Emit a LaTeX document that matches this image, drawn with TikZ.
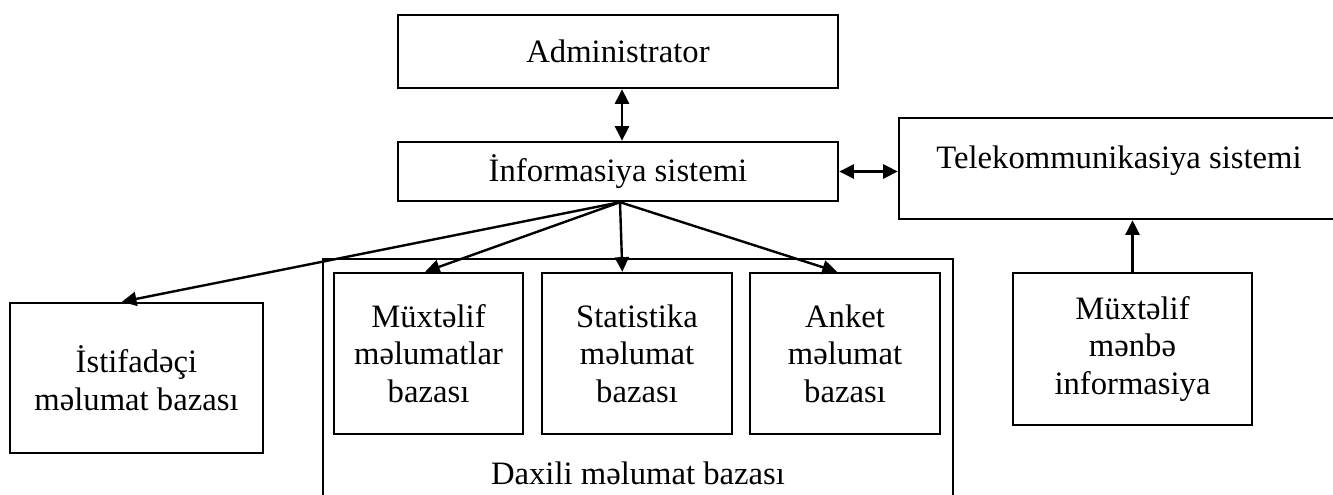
\documentclass[tikz,border=0pt]{standalone}
\usepackage{fontspec}
\setmainfont{Liberation Serif}
\usetikzlibrary{arrows.meta}

\begin{document}
\begin{tikzpicture}[x=0.75pt,y=-0.75pt,
  line width=1.8pt,
  box/.style={draw, line width=1.8pt, inner sep=0pt, align=center,
    font=\fontsize{24.5}{28.2}\selectfont},
  txt/.style={inner sep=0pt, align=center, font=\fontsize{24.5}{28.2}\selectfont},
  tip/.style={Triangle[length=11pt,width=10.5pt]},
  link/.style={-{Triangle[length=11pt,width=10.5pt]}, line width=1.8pt},
  both/.style={{Triangle[length=11pt,width=10.5pt]}-{Triangle[length=11pt,width=10.5pt]}, line width=1.8pt}]
\useasboundingbox (0,0) rectangle (1333,495);

% top row
\node[box, minimum width=330pt, minimum height=54.75pt] (admin) at (618,51.5) {Administrator};
\node[box, minimum width=330pt, minimum height=44.25pt] (info) at (618,171.5) {İnformasiya sistemi};
\node[box, minimum width=330pt, minimum height=75.75pt] (tele) at (1119,168.5) {};
\node[txt] (teletxt) at (1119,161) {Telekommunikasiya sistemi};

% left database
\node[box, minimum width=189.75pt, minimum height=112.5pt] (ist) at (136.5,378) {İstifadəçi\\məlumat bazası};

% internal databases (frame runs past the lower edge)
\node[box, minimum width=472.5pt, minimum height=195.75pt] (dax) at (638,389.5) {};
\node[txt] (daxtxt) at (638,473) {Daxili məlumat bazası};
\node[box, minimum width=141.75pt, minimum height=120.75pt] (m1) at (428.5,353.5) {Müxtəlif\\məlumatlar\\bazası};
\node[box, minimum width=142.5pt, minimum height=120.75pt] (m2) at (637,353.5) {Statistika\\məlumat\\bazası};
\node[box, minimum width=142.5pt, minimum height=120.75pt] (m3) at (845,353.5) {Anket\\məlumat\\bazası};

% external source
\node[box, minimum width=179.25pt, minimum height=114pt] (src) at (1132.5,349) {Müxtəlif\\mənbə\\informasiya};

% connectors
\draw[both] ([xshift=3pt]admin.south) -- ([xshift=3pt]info.north);
\draw[both] (info.east) -- (info.east -| tele.west);
\draw[link] (src.north) -- (src.north |- tele.south);
\coordinate (hub) at ([xshift=1.5pt]info.south);
\draw[link] (hub) -- ([xshift=-11pt]ist.north);
\draw[link] (hub) -- ([xshift=-2.5pt]m1.north);
\draw[link] (hub) -- ([xshift=-11pt]m2.north);
\draw[link] (hub) -- ([xshift=-6pt]m3.north);
\end{tikzpicture}
\end{document}
